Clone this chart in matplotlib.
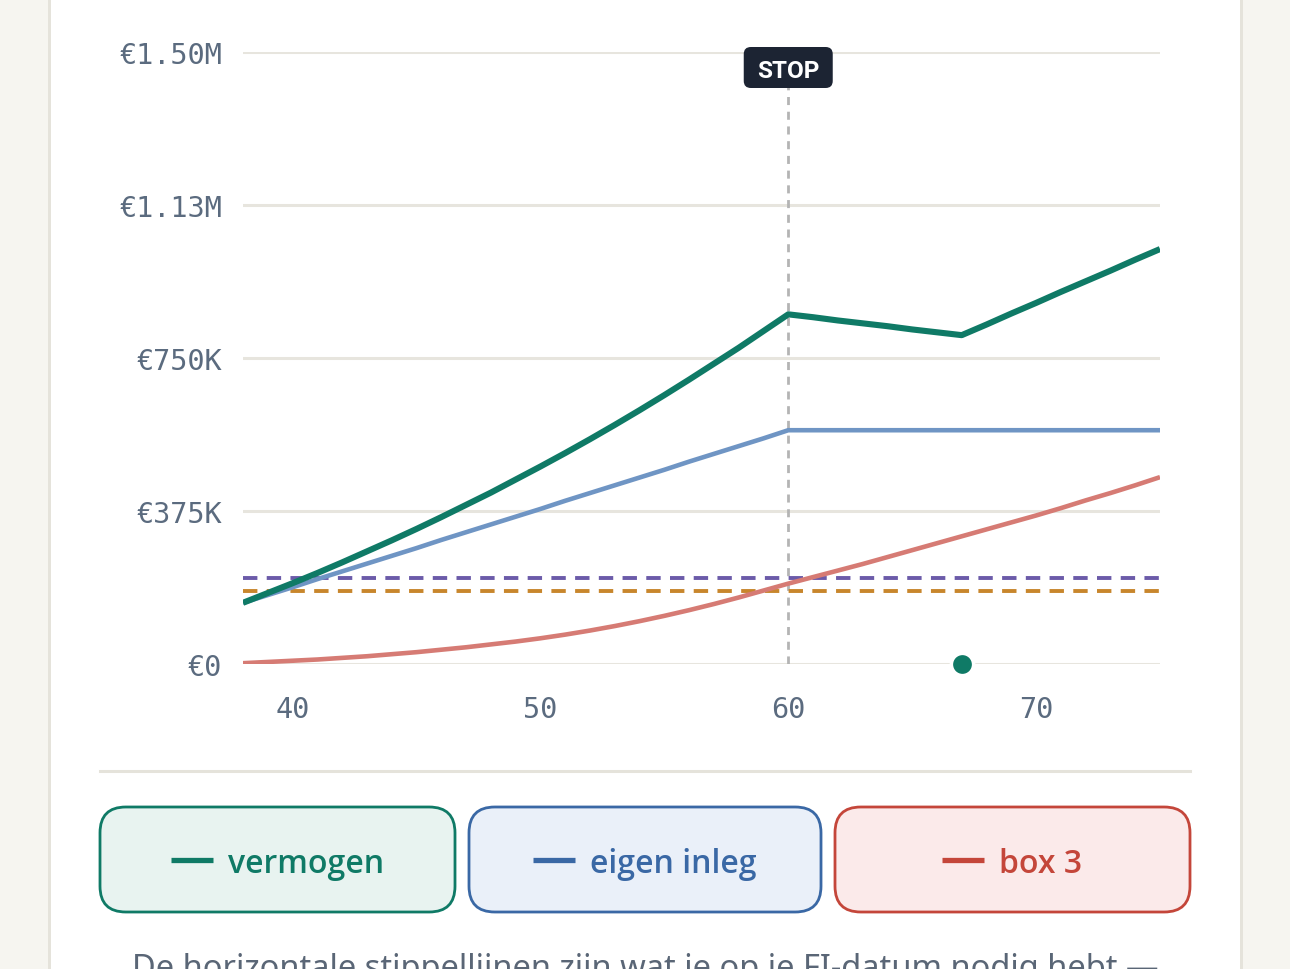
import matplotlib.pyplot as plt
from matplotlib.patches import FancyBboxPatch, Rectangle
from matplotlib.lines import Line2D

# data (values in euro)
ages = list(range(38, 76))
vermogen = [150, 174, 198, 223, 249, 276, 303, 331, 360, 390, 420, 452, 484, 517,
            551, 586, 622, 659, 697, 736, 775, 816, 857,
            850, 842, 835, 828, 820, 813, 806,
            832, 859, 885, 912, 938, 964, 991, 1017]
eigen_inleg = [150, 169, 188, 208, 227, 246, 265, 284, 304, 323, 342, 361, 380, 400,
               419, 438, 457, 476, 496, 515, 534, 553, 573] + [573] * 15
box3 = [2, 5, 8, 11, 15, 19, 24, 29, 35, 41, 48, 55, 63, 72, 82, 93, 105, 118, 132,
        147, 163, 180, 197, 213, 229, 245, 262, 279, 296, 313, 330, 347, 364, 382,
        401, 419, 438, 458]
vermogen = [v * 1000 for v in vermogen]
eigen_inleg = [v * 1000 for v in eigen_inleg]
box3 = [v * 1000 for v in box3]

nodig_paars = 212000
nodig_oranje = 180000
stop_age = 60
fi_age = 67

x_ticks = [40, 50, 60, 70]
y_ticks = [0, 375000, 750000, 1125000, 1500000]
y_labels = ['€0', '€375K', '€750K', '€1.13M', '€1.50M']

legend_labels = ['vermogen', 'eigen inleg', 'box 3']
legend_colors = ['#0f7a66', '#3a68a5', '#c4463a']
legend_fills = ['#e8f3f0', '#eaf0f9', '#fbeaea']
note = 'De horizontale stippellijnen zijn wat je op je FI-datum nodig hebt —'

W, H = 1290, 970
fig = plt.figure(figsize=(W / 100, H / 100), dpi=100)
fig.patch.set_facecolor('white')


def fx(x):
    return x / W


def fy(y):
    return 1 - y / H


# page strips at the sides
fig.patches.append(Rectangle((0, 0), fx(48), 1, transform=fig.transFigure,
                             facecolor='#f6f5f0', edgecolor='none', zorder=0))
fig.patches.append(Rectangle((fx(48), 0), fx(3), 1, transform=fig.transFigure,
                             facecolor='#e5e3db', edgecolor='none', zorder=0))
fig.patches.append(Rectangle((fx(1243), 0), fx(47), 1, transform=fig.transFigure,
                             facecolor='#f6f5f0', edgecolor='none', zorder=0))
fig.patches.append(Rectangle((fx(1240), 0), fx(3), 1, transform=fig.transFigure,
                             facecolor='#e5e3db', edgecolor='none', zorder=0))

ax = fig.add_axes([fx(243), fy(665), fx(1160 - 243), (665 - 53) / H])
ax.set_facecolor('none')
ax.set_xlim(38, 75)
ax.set_ylim(0, 1500000)
for s in ax.spines.values():
    s.set_visible(False)

for t in y_ticks:
    ax.axhline(t, color='#e7e5de', lw=2.2, zorder=1)

ax.set_yticks(y_ticks)
ax.set_yticklabels(y_labels)
ax.set_xticks(x_ticks)
ax.tick_params(length=0, labelsize=20.5, labelcolor='#5b6b7f')
ax.tick_params(axis='y', pad=15)
ax.tick_params(axis='x', pad=22)
for lab in ax.get_xticklabels() + ax.get_yticklabels():
    lab.set_family('DejaVu Sans Mono')

ax.axvline(stop_age, color='#b4b4b4', lw=2, dashes=(2.9, 2.4), zorder=2)

ax.axhline(nodig_paars, color='#6b5ba9', lw=2.8, dashes=(3.7, 2.4), zorder=3)
ax.axhline(nodig_oranje, color='#c8862c', lw=2.8, dashes=(3.7, 2.4), zorder=3)

ax.plot(ages, box3, color='#d67b74', lw=3.3, zorder=4, solid_capstyle='butt')
ax.plot(ages, eigen_inleg, color='#6f95c4', lw=3.3, zorder=5, solid_capstyle='butt')
ax.plot(ages, vermogen, color='#0f7a66', lw=4.4, zorder=6, solid_capstyle='butt')

ax.plot([fi_age], [0], 'o', color='#0f7a66', ms=16, mec='white', mew=2.5,
        zorder=7, clip_on=False)

# STOP label: box sized in pixels, anchored on the stop age
sx, sy = ax.transData.transform((stop_age, 1500000))
cy = sy - 15.5
fig.patches.append(FancyBboxPatch(
    ((sx - 44.5) / W, (cy - 20.5) / H), 89 / W, 41 / H,
    boxstyle='round,pad=0,rounding_size=0.0055', mutation_aspect=W / H,
    transform=fig.transFigure, facecolor='#1c2433', edgecolor='none', zorder=5))
fig.text(sx / W, cy / H, 'STOP', fontsize=17.5, fontweight='bold', family='Roboto',
         color='white', ha='center', va='center_baseline', zorder=6)

# separator above the legend buttons
fig.add_artist(Line2D([fx(100), fx(1190)], [fy(772), fy(772)],
                      color='#e5e3db', lw=2.2))

renderer = fig.canvas.get_renderer()
boxes = [(100, 455), (469, 821), (835, 1190)]
for (x0, x1), label, col, fill in zip(boxes, legend_labels, legend_colors, legend_fills):
    fig.patches.append(FancyBboxPatch(
        (fx(x0), fy(913)), fx(x1 - x0), (913 - 808) / H,
        boxstyle='round,pad=0,rounding_size=0.02', mutation_aspect=W / H,
        transform=fig.transFigure, facecolor=fill, edgecolor=col, lw=2))
    txt = fig.text(0, fy(861), label, fontsize=23, family='Open Sans',
                   fontweight='semibold', color=col, ha='left', va='center_baseline')
    tw = txt.get_window_extent(renderer).width
    sw, gap = 42, 15
    start = (x0 + x1) / 2 - (sw + gap + tw) / 2
    fig.add_artist(Line2D([fx(start), fx(start + sw)], [fy(861), fy(861)],
                          color=col, lw=3.8, solid_capstyle='butt'))
    txt.set_x(fx(start + sw + gap))

fig.text(fx(132), fy(978), note, fontsize=23.5, family='Noto Sans',
         color='#5a6676', ha='left', va='baseline')

fig.savefig('out.png', dpi=100, facecolor=fig.get_facecolor())
